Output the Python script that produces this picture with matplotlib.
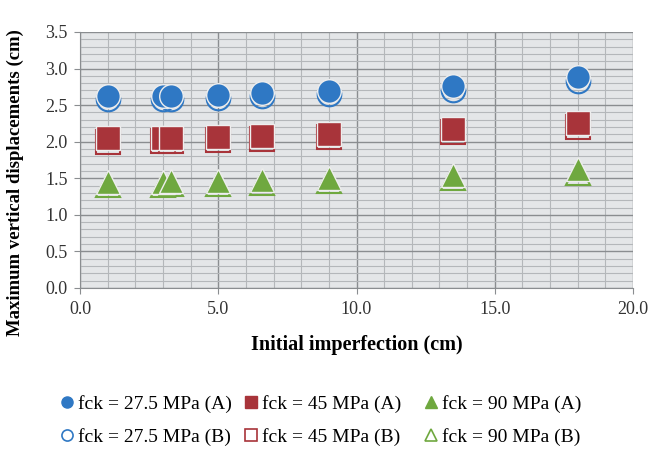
import matplotlib.pyplot as plt
from matplotlib.ticker import MultipleLocator

# dados
x = [1.0, 3.0, 3.3, 5.0, 6.6, 9.0, 13.5, 18.0]
c27_a = [2.62, 2.62, 2.62, 2.64, 2.66, 2.69, 2.76, 2.89]
c27_b = [2.58, 2.58, 2.58, 2.60, 2.62, 2.65, 2.71, 2.83]
c45_a = [2.05, 2.05, 2.05, 2.07, 2.08, 2.10, 2.18, 2.26]
c45_b = [2.00, 2.01, 2.01, 2.02, 2.03, 2.06, 2.13, 2.20]
c90_a = [1.45, 1.45, 1.46, 1.46, 1.47, 1.50, 1.55, 1.63]
c90_b = [1.41, 1.41, 1.42, 1.42, 1.43, 1.46, 1.50, 1.57]

blue = '#2f78c4'
red = '#a8343a'
green = '#6fa83f'
serif = 'Liberation Serif'

fig = plt.figure(figsize=(6.5, 4.5), dpi=100)
ax = fig.add_axes([0.123, 0.36, 0.851, 0.569])
ax.set_facecolor('#e4e6e8')

ax.set_xlim(0, 20)
ax.set_ylim(0, 3.5)
ax.xaxis.set_major_locator(MultipleLocator(5))
ax.xaxis.set_minor_locator(MultipleLocator(1))
ax.yaxis.set_major_locator(MultipleLocator(0.5))
ax.yaxis.set_minor_locator(MultipleLocator(0.1))
ax.grid(which='major', color='#8a8d90', lw=1.0)
ax.grid(which='minor', color='#b4b7ba', lw=0.8)
ax.set_axisbelow(True)
for s in ['top', 'right']:
    ax.spines[s].set_visible(False)
ax.spines['left'].set_color('#8a8d90')
ax.spines['bottom'].set_color('#8a8d90')
ax.tick_params(which='major', length=4, color='#8a8d90', labelsize=13,
               labelcolor='#333333', pad=5)
ax.tick_params(which='minor', length=0)
ax.xaxis.set_major_formatter(lambda v, p: f'{v:.1f}')
ax.yaxis.set_major_formatter(lambda v, p: f'{v:.1f}')
for lab in ax.get_xticklabels() + ax.get_yticklabels():
    lab.set_fontfamily(serif)

ms = 17
series = [
    (c27_a, c27_b, 'o', blue, '27.5'),
    (c45_a, c45_b, 's', red, '45'),
    (c90_a, c90_b, '^', green, '90'),
]
handles = []
for ya, yb, m, col, lab in series:
    hb, = ax.plot(x, yb, m, ms=ms, mfc='none', mec=col, mew=1.5,
                  linestyle='none', label=f'fck = {lab} MPa (B)')
    ha, = ax.plot(x, ya, m, ms=ms, color=col, mec='#eeeeee', mew=1.0,
                  linestyle='none', label=f'fck = {lab} MPa (A)')
    handles.append((ha, hb))

ax.set_ylabel('Maximum vertical displacements (cm)', fontfamily=serif,
              fontweight='bold', fontsize=13.5)
ax.yaxis.set_label_coords(-0.102, 0.41)
ax.set_xlabel('Initial imperfection (cm)', fontfamily=serif,
              fontweight='bold', fontsize=14.5)
ax.xaxis.set_label_coords(0.5, -0.185)

# legenda em três blocos
xs = [0.092, 0.375, 0.652]
for (ha, hb), xpos in zip(handles, xs):
    l1, = plt.plot([], [], ha.get_marker(), color=ha.get_color(), ms=8)
    l2, = plt.plot([], [], hb.get_marker(), mfc='none', mec=hb.get_mec(), ms=8, mew=1.2)
    fig.legend([l1, l2], [ha.get_label(), hb.get_label()], loc='upper left',
               bbox_to_anchor=(xpos, 0.123), frameon=False,
               prop={'family': serif, 'size': 14}, handlelength=0.7,
               handletextpad=0.25, labelspacing=0.8, borderaxespad=0,
               borderpad=0)

fig.savefig('out.png', dpi=100)
